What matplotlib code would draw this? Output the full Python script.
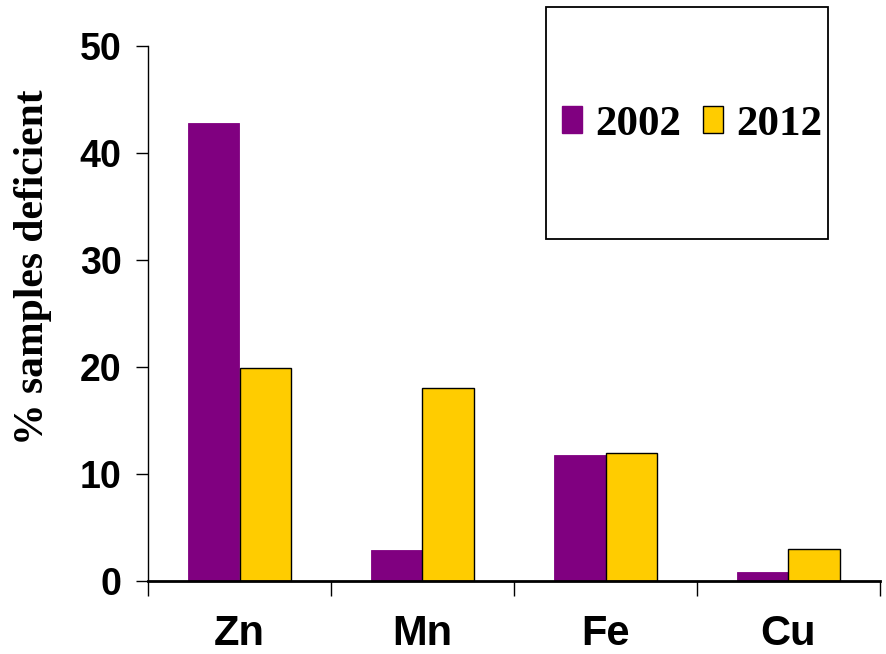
import matplotlib
matplotlib.use("Agg")
import matplotlib.pyplot as plt
import numpy as np
from matplotlib import font_manager
from matplotlib.patches import Rectangle, Patch

# Micronutrient deficiency survey results
elements = ["Zn", "Mn", "Fe", "Cu"]
years = ["2002", "2012"]
pct_2002 = [42.8, 2.9, 11.8, 0.85]
pct_2012 = [19.9, 18.0, 11.9, 3.0]
y_ticks = [0, 10, 20, 30, 40, 50]


def pick_font(candidates):
    for name in candidates:
        try:
            font_manager.findfont(font_manager.FontProperties(family=name),
                                  fallback_to_default=False)
            return name
        except Exception:
            continue
    return "DejaVu Sans"


sans = pick_font(["Liberation Sans Narrow", "Liberation Sans", "DejaVu Sans"])
serif = pick_font(["Liberation Serif", "DejaVu Serif"])

W, H, DPI = 887, 654, 100
fig = plt.figure(figsize=(W / DPI, H / DPI), dpi=DPI)
ax = fig.add_axes([148 / W, 1 - 580.7 / H, (880 - 148) / W, (580.7 - 46) / H])

purple = "#800080"
yellow = "#FFCC00"

x = np.arange(len(elements)) + 0.5
bw = 0.284
ax.bar(x - bw / 2, pct_2002, width=bw, color=purple, edgecolor=purple,
       linewidth=0.6, zorder=2)
ax.bar(x + bw / 2, pct_2012, width=bw, color=yellow, edgecolor="black",
       linewidth=1.0, zorder=2)

ax.set_xlim(0, len(elements))
ax.set_ylim(0, 50)

ax.spines["top"].set_visible(False)
ax.spines["right"].set_visible(False)
ax.spines["left"].set_linewidth(1.0)
ax.spines["bottom"].set_linewidth(2.0)

ax.set_yticks(y_ticks)
ax.set_yticklabels([str(v) for v in y_ticks], fontsize=27, fontweight="bold",
                   family=sans)
ax.tick_params(axis="y", direction="out", length=9, width=1.0, pad=10)

ax.set_xticks(x)
ax.set_xticklabels(elements, fontsize=30, fontweight="bold", family=sans)
ax.tick_params(axis="x", which="major", length=0, pad=24)
ax.set_xticks(np.arange(len(elements) + 1), minor=True)
ax.tick_params(axis="x", which="minor", direction="out", length=11, width=1.0)

ax.set_ylabel("% samples deficient", fontsize=30, fontweight="bold",
              family=serif)
ax.yaxis.set_label_coords(-0.131, 0.586)

# Legend box
bx0, by0, bx1, by1 = 546, 7, 828, 239
fig.patches.append(Rectangle((bx0 / W, 1 - by1 / H), (bx1 - bx0) / W,
                             (by1 - by0) / H, transform=fig.transFigure,
                             facecolor="white", edgecolor="black",
                             linewidth=1.3, zorder=5))
handles = [Patch(facecolor=purple, edgecolor=purple),
           Patch(facecolor=yellow, edgecolor="black", linewidth=1.0)]
leg = fig.legend(handles, years, loc="center",
                 bbox_to_anchor=(692 / W, 1 - 125 / H), ncol=2,
                 frameon=False, prop=dict(family=serif, weight="bold", size=31),
                 handlelength=0.48, handleheight=0.6, handletextpad=0.3,
                 columnspacing=0.5, borderpad=0)
leg.set_zorder(6)

fig.savefig("out.png", dpi=DPI)
